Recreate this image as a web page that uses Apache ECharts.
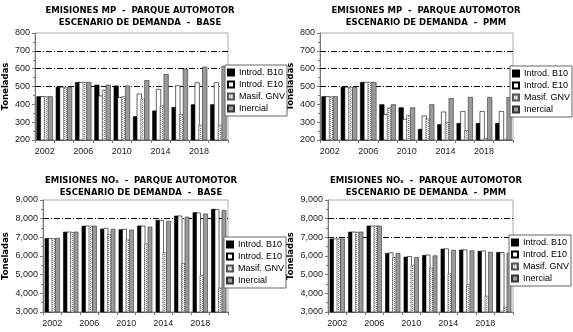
<!DOCTYPE html>
<html>
<head>
<meta charset="utf-8">
<script src="https://cdn.jsdelivr.net/npm/echarts@6/dist/echarts.min.js"></script>
<style>
  html, body { margin: 0; padding: 0; background: #fff; }
  #main { width: 573px; height: 332px; }
</style>
</head>
<body>
<div id="main"></div>
<script>
// years on the x axis (one group every 2 years)
var years = ['2002', '2004', '2006', '2008', '2010', '2012', '2014', '2016', '2018', '2020'];
var seriesNames = ['Introd. B10', 'Introd. E10', 'Masif. GNV', 'Inercial'];

// MP - base
var mpBaseB10 = [445, 498, 525, 510, 505, 333, 365, 385, 400, 400];
var mpBaseE10 = [445, 498, 525, 449, 441, 460, 486, 506, 523, 523];
var mpBaseGNV = [445, 495, 525, 482, 445, 432, 393, 346, 286, 286];
var mpBaseIne = [445, 497, 525, 510, 505, 535, 570, 600, 611, 615];
// MP - PMM
var mpPmmB10 = [445, 498, 525, 400, 383, 262, 288, 295, 295, 295];
var mpPmmE10 = [445, 498, 525, 345, 318, 337, 359, 362, 362, 362];
var mpPmmGNV = [445, 495, 525, 382, 340, 320, 300, 255, 210, 207];
var mpPmmIne = [445, 497, 525, 400, 383, 400, 435, 441, 441, 441];
// NOx - base
var noxBaseB10 = [6950, 7300, 7620, 7460, 7430, 7625, 7930, 8160, 8340, 8520];
var noxBaseE10 = [6950, 7300, 7620, 7500, 7445, 7625, 7930, 8160, 8320, 8500];
var noxBaseGNV = [6950, 7280, 7620, 7160, 6870, 6670, 6190, 5620, 4980, 4300];
var noxBaseIne = [6970, 7300, 7620, 7450, 7410, 7570, 7875, 8100, 8270, 8460];
// NOx - PMM
var noxPmmB10 = [6930, 7300, 7625, 6160, 5960, 6050, 6390, 6340, 6270, 6210];
var noxPmmE10 = [6930, 7300, 7625, 6190, 5990, 6070, 6400, 6340, 6290, 6200];
var noxPmmGNV = [6930, 7290, 7625, 5930, 5520, 5370, 5060, 4480, 3860, 3270];
var noxPmmIne = [6930, 7300, 7625, 6160, 5940, 6030, 6330, 6300, 6220, 6170];

// y axis ranges and grid lines that show in the picture
var mpTicks = [200, 800, 100];
var noxTicks = [3000, 9000, 1000];
var mpGridLines = [500, 600, 700];
var noxBaseGridLines = [8000];
var noxPmmGridLines = [7000, 8000];

// stipple fill for GNV bars
function stipple() {
  var c = document.createElement('canvas');
  c.width = 4; c.height = 4;
  var ctx = c.getContext('2d');
  ctx.fillStyle = '#f2f2f2';
  ctx.fillRect(0, 0, 4, 4);
  ctx.fillStyle = '#8a8a8a';
  ctx.fillRect(0, 0, 1, 1); ctx.fillRect(2, 1, 1, 1);
  ctx.fillRect(0, 2, 1, 1); ctx.fillRect(2, 3, 1, 1);
  ctx.fillStyle = '#c4c4c4';
  ctx.fillRect(1, 0, 1, 1); ctx.fillRect(3, 2, 1, 1);
  return { image: c, repeat: 'repeat' };
}
var gnvFill = stipple();

var styles = [
  { color: '#000', borderColor: '#000', borderWidth: 0.6 },
  { color: '#fff', borderColor: '#000', borderWidth: 0.6 },
  { color: gnvFill, borderColor: '#555', borderWidth: 0.6 },
  { color: '#9a9a9a', borderColor: '#333', borderWidth: 0.6 }
];

var fontSans = 'Liberation Sans, Arial, sans-serif';
var fontTitle = 'DejaVu Sans, sans-serif';

function fmtThousands(v) {
  return String(v).replace(/\B(?=(\d{3})+(?!\d))/g, ',');
}

var panels = [
  { grid: { left: 35, top: 33, width: 193, height: 107 }, ticks: mpTicks, lines: mpGridLines,
    data: [mpBaseB10, mpBaseE10, mpBaseGNV, mpBaseIne], fmt: null, nameGap: 25, catGap: '15%',
    title: { cx: 140, top: 5, text: 'EMISIONES MP  -  PARQUE AUTOMOTOR\nESCENARIO DE DEMANDA  -  BASE' },
    legend: { left: 225, top: 65 } },
  { grid: { left: 320, top: 33, width: 193, height: 107 }, ticks: mpTicks, lines: mpGridLines,
    data: [mpPmmB10, mpPmmE10, mpPmmGNV, mpPmmIne], fmt: null, nameGap: 25, catGap: '15%',
    title: { cx: 426, top: 5, text: 'EMISIONES MP  -  PARQUE AUTOMOTOR\nESCENARIO DE DEMANDA  -  PMM' },
    legend: { left: 510, top: 66 } },
  { grid: { left: 43, top: 200, width: 185, height: 112 }, ticks: noxTicks, lines: noxBaseGridLines,
    data: [noxBaseB10, noxBaseE10, noxBaseGNV, noxBaseIne], fmt: fmtThousands, nameGap: 33, catGap: '18%',
    title: { cx: 141, top: 175, text: 'EMISIONES NOₓ  -  PARQUE AUTOMOTOR\nESCENARIO DE DEMANDA  -  BASE' },
    legend: { left: 224, top: 237 } },
  { grid: { left: 328, top: 200, width: 185, height: 112 }, ticks: noxTicks, lines: noxPmmGridLines,
    data: [noxPmmB10, noxPmmE10, noxPmmGNV, noxPmmIne], fmt: fmtThousands, nameGap: 33, catGap: '18%',
    title: { cx: 426, top: 175, text: 'EMISIONES NOₓ  -  PARQUE AUTOMOTOR\nESCENARIO DE DEMANDA  -  PMM' },
    legend: { left: 509, top: 235 } }
];

var option = {
  animation: false,
  backgroundColor: '#fff',
  title: [], grid: [], xAxis: [], yAxis: [], legend: [], series: []
};

panels.forEach(function (p, i) {
  option.title.push({
    text: p.title.text,
    left: p.title.cx,
    top: p.title.top,
    textAlign: 'center',
    padding: 0,
    textStyle: { fontFamily: fontTitle, fontSize: 8.5, fontWeight: 'bold', color: '#000', lineHeight: 12 }
  });
  option.grid.push({
    left: p.grid.left, top: p.grid.top, width: p.grid.width, height: p.grid.height,
    show: true, borderColor: '#aaa', borderWidth: 1, backgroundColor: '#fff'
  });
  option.xAxis.push({
    type: 'category', gridIndex: i, data: years,
    axisLine: { lineStyle: { color: '#777', width: 1 } },
    axisTick: { show: true, interval: 0, length: 3, lineStyle: { color: '#777' } },
    axisLabel: { interval: 1, margin: 7, fontSize: 9, fontFamily: fontSans, color: '#222' },
    splitLine: { show: false }
  });
  option.yAxis.push({
    type: 'value', gridIndex: i,
    min: p.ticks[0], max: p.ticks[1], interval: p.ticks[2],
    name: 'Toneladas', nameLocation: 'middle', nameGap: p.nameGap, nameRotate: 90,
    nameTextStyle: { fontFamily: fontTitle, fontSize: 8.5, fontWeight: 'bold', color: '#000' },
    axisLine: { show: true, lineStyle: { color: '#777', width: 1 } },
    axisTick: { show: true, length: 3, lineStyle: { color: '#777' } },
    minorTick: { show: true, splitNumber: 2, length: 2, lineStyle: { color: '#777' } },
    axisLabel: { margin: 5, fontSize: 9, fontFamily: fontSans, color: '#222', formatter: p.fmt || undefined },
    splitLine: { show: false }
  });
  option.legend.push({
    orient: 'vertical',
    left: p.legend.left, top: p.legend.top,
    data: seriesNames,
    icon: 'rect', itemWidth: 6, itemHeight: 6, itemGap: 1,
    padding: [2, 2, 2, 2],
    backgroundColor: '#fff', borderColor: '#666', borderWidth: 1,
    selectedMode: false,
    textStyle: { fontFamily: fontSans, fontSize: 9, color: '#000', lineHeight: 11 }
  });
  p.data.forEach(function (vals, k) {
    var s = {
      name: seriesNames[k], type: 'bar',
      xAxisIndex: i, yAxisIndex: i,
      data: vals,
      barGap: '-25%', barCategoryGap: p.catGap,
      itemStyle: styles[k],
      emphasis: { disabled: true }
    };
    if (k === 0) {
      s.markLine = {
        silent: true, symbol: 'none', z: 1,
        label: { show: false },
        lineStyle: { color: '#000', width: 1, type: [6, 2, 1, 2] },
        data: p.lines.map(function (v) { return { yAxis: v }; })
      };
    }
    option.series.push(s);
  });
});

var chart = echarts.init(document.getElementById('main'), null, { renderer: 'canvas' });
chart.setOption(option);
</script>
</body>
</html>
